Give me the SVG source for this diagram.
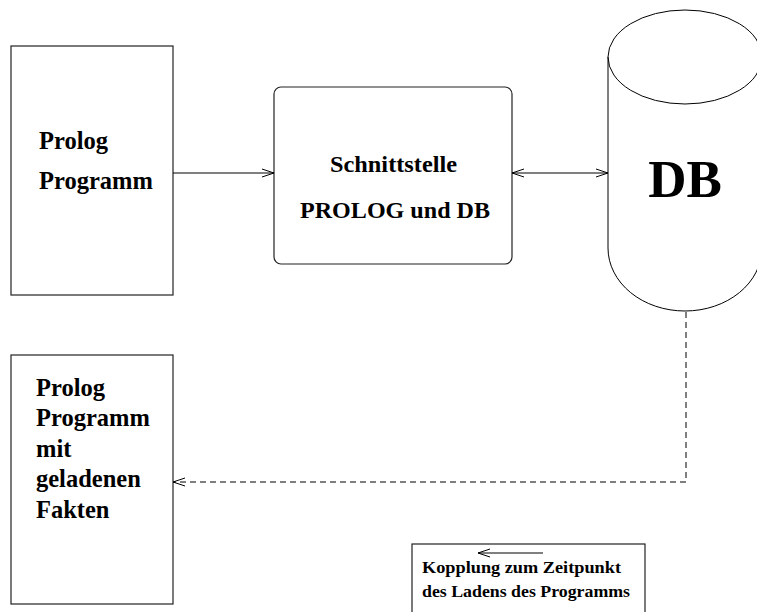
<svg xmlns="http://www.w3.org/2000/svg" width="757" height="612" viewBox="0 0 757 612">
  <style>
    .box { fill: #fff; stroke: #222; stroke-width: 1.2; }
    .line { fill: none; stroke: #000; stroke-width: 1; }
    .dash { fill: none; stroke: #000; stroke-width: 1; stroke-dasharray: 6 4; }
    .t { font-family: "Liberation Serif", "Times New Roman", serif; font-weight: bold; fill: #000; }
  </style>
  <defs>
    <marker id="open" viewBox="0 0 14 10" refX="13" refY="5" markerWidth="14" markerHeight="10" markerUnits="userSpaceOnUse" orient="auto-start-reverse">
      <path d="M1,1 L13,5 L1,9" fill="none" stroke="#000" stroke-width="1"/>
    </marker>
  </defs>
  <rect width="757" height="612" fill="#fff"/>

  <g id="prolog-programm">
    <rect class="box" x="11" y="46" width="162" height="249"/>
    <text class="t" x="39" y="149" font-size="24.5">Prolog</text>
    <text class="t" x="39" y="189" font-size="24.5">Programm</text>
  </g>

  <g id="schnittstelle">
    <rect class="box" x="274" y="87" width="238" height="177" rx="7" ry="7"/>
    <text class="t" x="330" y="172" font-size="23.5" textLength="127" lengthAdjust="spacingAndGlyphs">Schnittstelle</text>
    <text class="t" x="300" y="218" font-size="23.5" textLength="190" lengthAdjust="spacingAndGlyphs">PROLOG und DB</text>
  </g>

  <g id="db">
    <path class="line" d="M608,57 L608,248 A77,63 0 0 0 762,248"/>
    <ellipse class="line" cx="685" cy="57" rx="77" ry="47"/>
    <text class="t" x="685" y="197" font-size="53" text-anchor="middle">DB</text>
  </g>

  <g id="prolog-programm-fakten">
    <rect class="box" x="11" y="355" width="162" height="249"/>
    <text class="t" x="36" y="396" font-size="24.5">Prolog</text>
    <text class="t" x="36" y="426" font-size="24.5">Programm</text>
    <text class="t" x="36" y="457" font-size="24.5">mit</text>
    <text class="t" x="36" y="487" font-size="24.5">geladenen</text>
    <text class="t" x="36" y="518" font-size="24.5">Fakten</text>
  </g>

  <g id="legende">
    <rect class="box" x="412" y="544" width="233" height="80"/>
    <line class="line" x1="543" y1="553" x2="478" y2="553" marker-end="url(#open)"/>
    <text class="t" x="422" y="573" font-size="17" textLength="199" lengthAdjust="spacingAndGlyphs">Kopplung zum Zeitpunkt</text>
    <text class="t" x="422" y="597" font-size="17" textLength="208" lengthAdjust="spacingAndGlyphs">des Ladens des Programms</text>
  </g>

  <g id="connectors">
    <line class="line" x1="173" y1="173" x2="274" y2="173" marker-end="url(#open)"/>
    <line class="line" x1="512" y1="173" x2="608" y2="173" marker-start="url(#open)" marker-end="url(#open)"/>
    <polyline class="dash" points="686,312 686,482 173,482" marker-end="url(#open)"/>
  </g>
</svg>
